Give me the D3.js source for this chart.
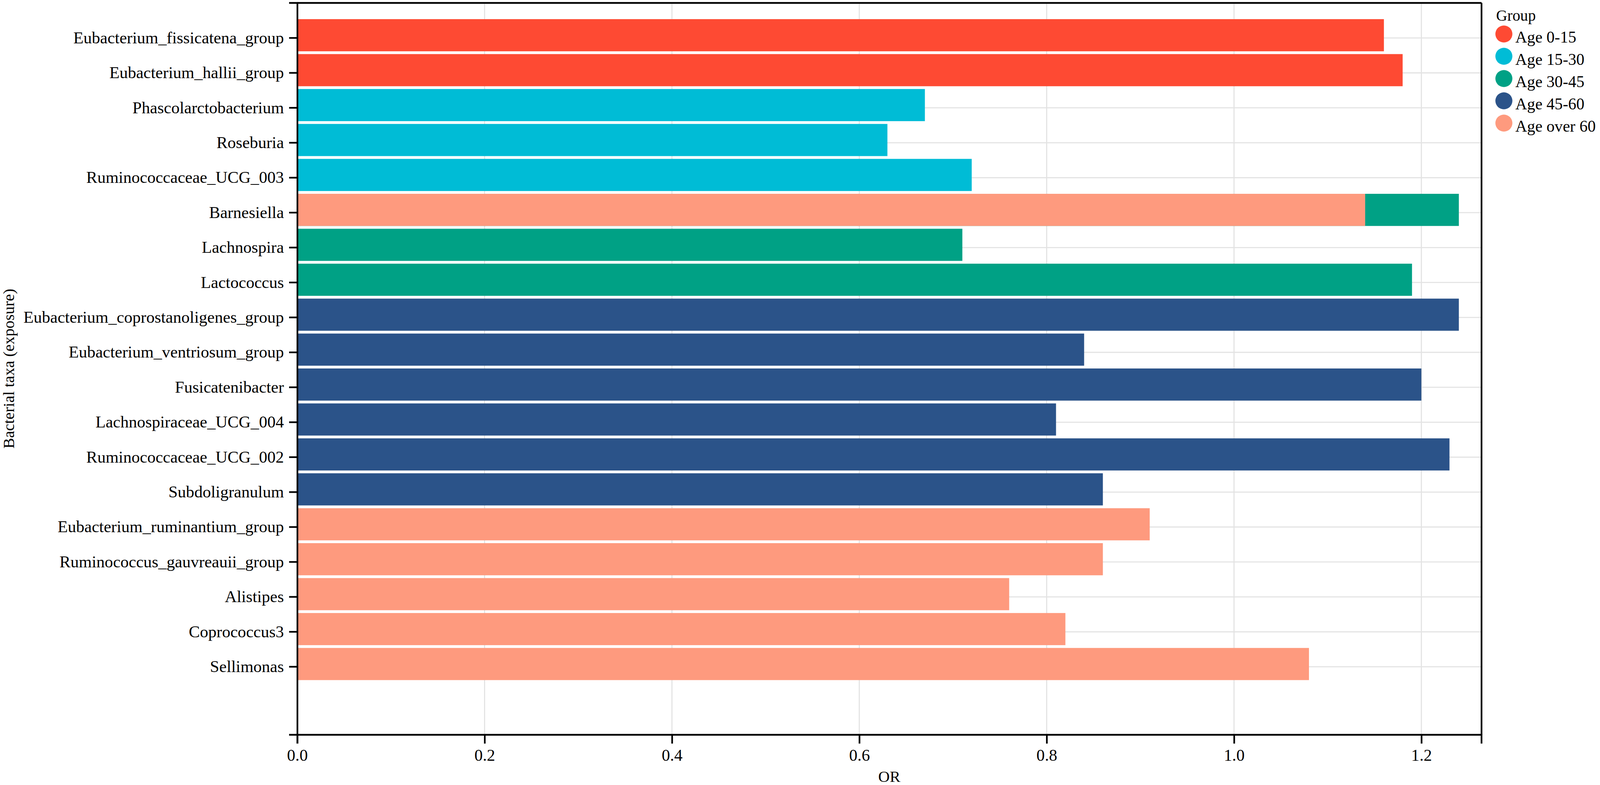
<!DOCTYPE html>
<html>
<head>
<meta charset="utf-8">
<script src="https://cdn.jsdelivr.net/npm/d3@7"></script>
<style>
  html, body { margin: 0; padding: 0; background: #fff; overflow: hidden; }
  .chart svg { display: block; }
  text { font-family: "Liberation Serif", "DejaVu Serif", serif; fill: #000; }
</style>
</head>
<body>
<div class="chart"></div>
<script>
// Data.
const taxa = [
  'Eubacterium_fissicatena_group', 'Eubacterium_hallii_group', 'Phascolarctobacterium',
  'Roseburia', 'Ruminococcaceae_UCG_003', 'Barnesiella', 'Lachnospira', 'Lactococcus',
  'Eubacterium_coprostanoligenes_group', 'Eubacterium_ventriosum_group', 'Fusicatenibacter',
  'Lachnospiraceae_UCG_004', 'Ruminococcaceae_UCG_002', 'Subdoligranulum',
  'Eubacterium_ruminantium_group', 'Ruminococcus_gauvreauii_group', 'Alistipes',
  'Coprococcus3', 'Sellimonas'
];

const groups = ['Age 0-15', 'Age 15-30', 'Age 30-45', 'Age 45-60', 'Age over 60'];
const groupColors = ['#fe4a33', '#00bcd6', '#00a185', '#2b5389', '#fe9a7e'];

// One entry per bar (Barnesiella appears twice, over 60 drawn on top).
const barTaxon = [
  'Eubacterium_fissicatena_group', 'Eubacterium_hallii_group',
  'Phascolarctobacterium', 'Roseburia', 'Ruminococcaceae_UCG_003',
  'Barnesiella', 'Lachnospira', 'Lactococcus',
  'Eubacterium_coprostanoligenes_group', 'Eubacterium_ventriosum_group', 'Fusicatenibacter',
  'Lachnospiraceae_UCG_004', 'Ruminococcaceae_UCG_002', 'Subdoligranulum',
  'Barnesiella', 'Eubacterium_ruminantium_group', 'Ruminococcus_gauvreauii_group',
  'Alistipes', 'Coprococcus3', 'Sellimonas'
];
const barGroup = [
  'Age 0-15', 'Age 0-15',
  'Age 15-30', 'Age 15-30', 'Age 15-30',
  'Age 30-45', 'Age 30-45', 'Age 30-45',
  'Age 45-60', 'Age 45-60', 'Age 45-60', 'Age 45-60', 'Age 45-60', 'Age 45-60',
  'Age over 60', 'Age over 60', 'Age over 60', 'Age over 60', 'Age over 60', 'Age over 60'
];
const barOR = [
  1.16, 1.18,
  0.67, 0.63, 0.72,
  1.24, 0.71, 1.19,
  1.24, 0.84, 1.20, 0.81, 1.23, 0.86,
  1.14, 0.91, 0.86, 0.76, 0.82, 1.08
];

const xTicks = [0, 0.2, 0.4, 0.6, 0.8, 1.0, 1.2];
const xMax = 1.264;

// Main function.
function ready() {
  const bars = barTaxon.map((t, i) => ({taxon: t, group: barGroup[i], or: barOR[i]}));

  // Layout is laid out for 4328x2009 and scaled to the actual window.
  const baseW = 4328;
  const baseH = 2009;
  const width = window.innerWidth || baseW;
  const height = window.innerHeight || baseH;
  const sx = width / baseW;
  const sy = height / baseH;
  const s = Math.min(sx, sy);
  const px = v => `${v * s}px`;

  const plot = {left: 804 * sx, right: 4007 * sx, top: 7 * sy, bottom: 1880 * sy};

  // Scales.
  const xScale = d3.scaleLinear()
    .domain([0, xMax])
    .range([plot.left, plot.right]);

  const yScale = d3.scaleBand()
    .domain(taxa)
    .range([plot.top, plot.bottom])
    .paddingInner(0.08)
    .paddingOuter(1.015)
    .align(0.27);

  const color = d3.scaleOrdinal()
    .domain(groups)
    .range(groupColors);

  // Draw base.
  const svg = d3.select('.chart')
    .append('svg')
    .attr('width', width)
    .attr('height', height);

  svg.append('rect')
    .attr('width', width)
    .attr('height', height)
    .style('fill', '#fff');

  // Grid.
  const grid = svg.append('g').attr('class', 'grid')
    .style('stroke', '#e3e3e3')
    .style('stroke-width', 3 * s);

  grid.selectAll('.vgrid')
    .data(xTicks)
    .enter()
    .append('line')
    .attr('x1', d => xScale(d))
    .attr('x2', d => xScale(d))
    .attr('y1', plot.top)
    .attr('y2', plot.bottom);

  grid.selectAll('.hgrid')
    .data(taxa)
    .enter()
    .append('line')
    .attr('x1', plot.left)
    .attr('x2', plot.right)
    .attr('y1', d => yScale(d) + yScale.bandwidth() / 2)
    .attr('y2', d => yScale(d) + yScale.bandwidth() / 2);

  // Draw bars (sit a little above their tick, as in the original).
  svg.append('g')
    .selectAll('.bar')
    .data(bars)
    .enter()
    .append('rect')
    .attr('class', 'bar')
    .attr('x', xScale(0))
    .attr('y', d => yScale(d.taxon) - 7 * sy)
    .attr('width', d => xScale(d.or) - xScale(0))
    .attr('height', yScale.bandwidth())
    .style('fill', d => color(d.group));

  // Draw axes.
  const xAxis = d3.axisBottom(xScale)
    .tickValues(xTicks)
    .tickFormat(d3.format('.1f'))
    .tickSizeInner(23 * sy)
    .tickSizeOuter(23 * sy)
    .tickPadding(14 * sy);

  const xAxisDraw = svg.append('g')
    .attr('class', 'x axis')
    .attr('transform', `translate(0,${plot.bottom})`)
    .call(xAxis);

  const yAxis = d3.axisLeft(yScale)
    .tickSizeInner(22 * sx)
    .tickSizeOuter(22 * sx)
    .tickPadding(14 * sx);

  const yAxisDraw = svg.append('g')
    .attr('class', 'y axis')
    .attr('transform', `translate(${plot.left},0)`)
    .call(yAxis);

  const topLine = svg.append('g')
    .attr('transform', `translate(0,${plot.top})`)
    .call(d3.axisTop(xScale).tickValues([]).tickSizeOuter(0));

  const rightLine = svg.append('g')
    .attr('transform', `translate(${plot.right},0)`)
    .call(d3.axisRight(yScale).tickValues([]).tickSizeOuter(0));

  [xAxisDraw, yAxisDraw, topLine, rightLine].forEach(a => {
    a.selectAll('path, line').style('stroke', '#000').style('stroke-width', 4.5 * s);
    a.selectAll('text')
      .style('font-family', '"Liberation Serif", serif')
      .style('font-size', px(45))
      .style('fill', '#000');
  });

  // Axis titles.
  svg.append('text')
    .attr('x', (plot.left + plot.right) / 2)
    .attr('y', 2001 * sy)
    .attr('text-anchor', 'middle')
    .style('font-size', px(43))
    .text('OR');

  svg.append('text')
    .attr('transform', `translate(${38 * sx},${(plot.top + plot.bottom) / 2}) rotate(-90)`)
    .attr('text-anchor', 'middle')
    .style('font-size', px(43))
    .text('Bacterial taxa (exposure)');

  // Legend.
  const legend = svg.append('g')
    .attr('class', 'legend')
    .attr('transform', `translate(${4045 * sx},0)`);

  legend.append('text')
    .attr('x', 2 * s)
    .attr('y', 53 * sy)
    .style('font-size', px(42))
    .text('Group');

  const items = legend.selectAll('.item')
    .data(groups)
    .enter()
    .append('g')
    .attr('class', 'item')
    .attr('transform', (d, i) => `translate(0,${(87 + i * 57) * sy})`);

  items.append('circle')
    .attr('cx', 23 * s)
    .attr('cy', 0)
    .attr('r', 23 * s)
    .style('fill', d => color(d));

  items.append('text')
    .attr('x', 54 * s)
    .attr('y', 23 * s)
    .style('font-size', px(44))
    .text(d => d);
}

ready();
</script>
</body>
</html>
